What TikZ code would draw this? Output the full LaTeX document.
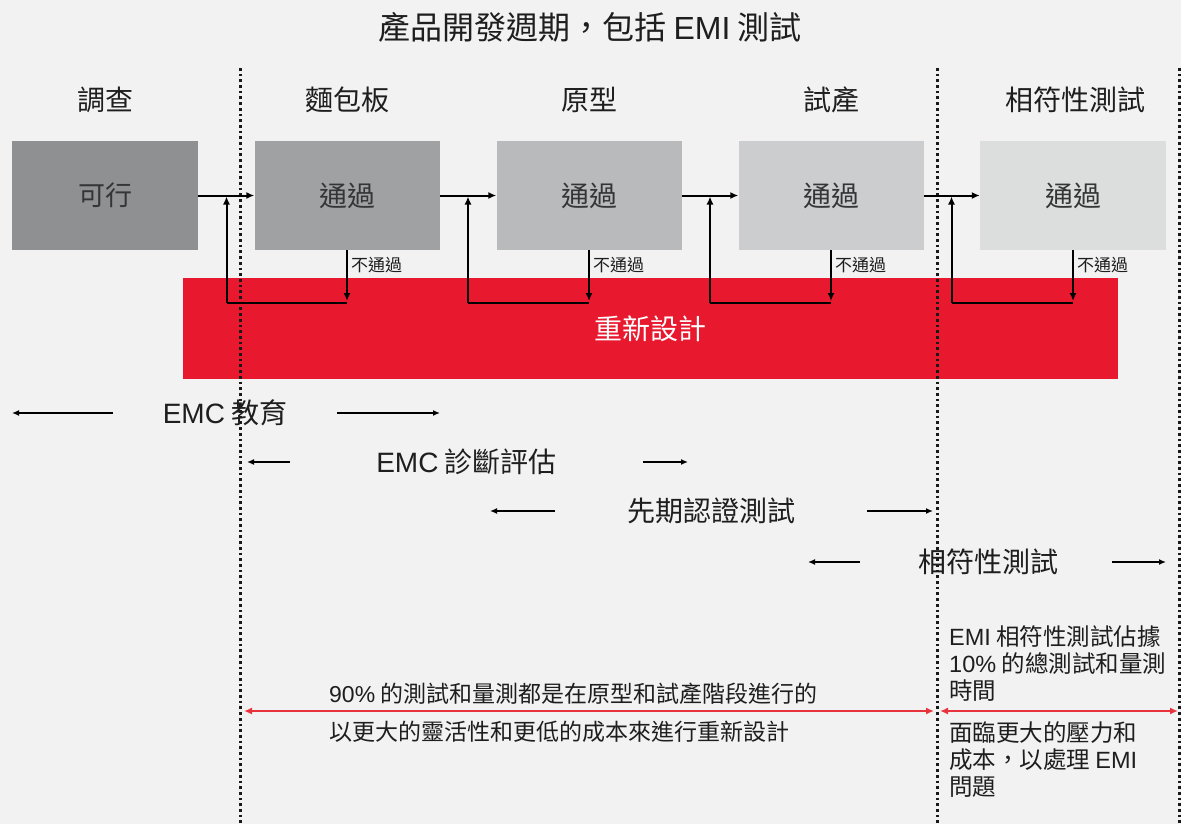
\documentclass[tikz,border=0pt]{standalone}
\usepackage{fontspec}
\setmainfont{Noto Sans CJK TC}
\newfontfamily\latfont{Liberation Sans}
\newcommand\lt[1]{{\latfont #1}}
\usetikzlibrary{arrows.meta,calc}
\definecolor{bg}{HTML}{F2F2F2}
\definecolor{txt}{HTML}{1E1E1E}
\definecolor{gA}{HTML}{8F9092}
\definecolor{gB}{HTML}{A0A1A3}
\definecolor{gC}{HTML}{B9BABC}
\definecolor{gD}{HTML}{CCCDCE}
\definecolor{gE}{HTML}{DCDDDD}
\definecolor{redbox}{HTML}{E8192F}
\definecolor{redln}{HTML}{E8323C}
\tikzset{
  stagebox/.style={minimum width=185pt, minimum height=109pt, inner sep=0pt,
    text=txt!90, font=\fontsize{28}{30}\selectfont},
  phase/.style={text=txt, font=\fontsize{28}{30}\selectfont, inner sep=0pt},
  fail/.style={text=txt, font=\fontsize{17}{19}\selectfont, inner sep=0pt, anchor=west},
  flow/.style={line width=2pt, draw=black, -{Latex[length=8pt,width=7pt]}},
  plain/.style={line width=2pt, draw=black},
  sarr/.style={line width=1.8pt, draw=black, -{Latex[length=7pt,width=6pt]}},
  rarr/.style={line width=2pt, draw=redln, {Latex[length=8pt,width=7pt]}-{Latex[length=8pt,width=7pt]}},
  dots/.style={line width=3pt, draw=black!90, dash pattern=on 2.7pt off 3pt},
  note/.style={text=txt, inner sep=0pt, align=left, anchor=west},
}
\begin{document}
\begin{tikzpicture}[x=1pt,y=-1pt]
\fill[bg] (0,0) rectangle (1181,824);
\useasboundingbox (0,0) rectangle (1181,824);

% title
\node[phase, font=\fontsize{32}{34}\selectfont] (title) at (590,27) {產品開發週期，包括 \lt{EMI} 測試};

% red redesign box
\node[fill=redbox, minimum width=935pt, minimum height=101pt, inner sep=0pt,
      text=white, font=\fontsize{28}{30}\selectfont] (red) at (650.5,328.5) {重新設計};

% dotted phase separators
\coordinate (d1t) at (240,68);  \coordinate (d1b) at (240,824);
\coordinate (d2t) at (937,68);  \coordinate (d2b) at (937,824);
\coordinate (d3t) at (1179,68); \coordinate (d3b) at (1179,824);
\draw[dots] (d1t) -- (d1b);
\draw[dots] (d2t) -- (d2b);
\draw[dots] (d3t) -- (d3b);

% stage boxes
\node[stagebox, fill=gA, minimum width=186pt, font=\fontsize{27}{29}\selectfont] (b1) at (105,195.5) {可行};
\node[stagebox, fill=gB] (b2) at (347,195.5) {通過};
\node[stagebox, fill=gC] (b3) at (589,195.5) {通過};
\node[stagebox, fill=gD] (b4) at (831,195.5) {通過};
\node[stagebox, fill=gE, minimum width=186pt] (b5) at (1073,195.5) {通過};

% phase labels
\node[phase] (p1) at (105,100) {調查};
\node[phase] (p2) at (347,100) {麵包板};
\node[phase] (p3) at (589,100) {原型};
\node[phase] (p4) at (831,100) {試產};
\node[phase] (p5) at (1075,100) {相符性測試};

% forward flow
\draw[flow] (b1.east) -- (b2.west);
\draw[flow] (b2.east) -- (b3.west);
\draw[flow] (b3.east) -- (b4.west);
\draw[flow] (b4.east) -- (b5.west);

% feedback loops
\coordinate (f1) at (226.5,303);
\coordinate (f2) at (468,303);
\coordinate (f3) at (710,303);
\coordinate (f4) at (951.5,303);
\foreach \b/\f/\p in {b2/f1/b1, b3/f2/b2, b4/f3/b3, b5/f4/b4}{
  \draw[plain] (\b.south |- \f) -- (\f);
  \draw[flow] (\f) -- ([yshift=-1pt]\f |- \p.east);
  \draw[flow] (\b.south) -- ([yshift=2pt]\b.south |- \f);
  \node[fail] at ($(\b.south)+(4,15)$) {不通過};
}

% lower activity rows
\node[phase] (t1) at (225,413) {\lt{EMC} 教育};
\coordinate (a1a) at (113,413); \coordinate (a1b) at (12,413);
\coordinate (a1c) at (337,413); \coordinate (a1d) at (440,413);
\draw[sarr] (a1a) -- (a1b);
\draw[sarr] (a1c) -- (a1d);

\node[phase] (t2) at (466.5,462) {\lt{EMC} 診斷評估};
\coordinate (a2a) at (290,462); \coordinate (a2b) at (247,462);
\coordinate (a2c) at (643,462); \coordinate (a2d) at (688,462);
\draw[sarr] (a2a) -- (a2b);
\draw[sarr] (a2c) -- (a2d);

\node[phase] (t3) at (711.5,511) {先期認證測試};
\coordinate (a3a) at (555,511); \coordinate (a3b) at (490,511);
\coordinate (a3c) at (867,511); \coordinate (a3d) at (933,511);
\draw[sarr] (a3a) -- (a3b);
\draw[sarr] (a3c) -- (a3d);

\node[phase] (t4) at (988,562) {相符性測試};
\coordinate (a4a) at (860,562); \coordinate (a4b) at (808,562);
\coordinate (a4c) at (1112,562); \coordinate (a4d) at (1166,562);
\draw[sarr] (a4a) -- (a4b);
\draw[sarr] (a4c) -- (a4d);

% bottom span arrows
\coordinate (r1a) at (244,711); \coordinate (r1b) at (934,711);
\coordinate (r2a) at (940,711); \coordinate (r2b) at (1178,711);
\draw[rarr] (r1a) -- (r1b);
\draw[rarr] (r2a) -- (r2b);

% bottom notes
\node[note, font=\fontsize{23}{38}\selectfont] (n1) at (329,713)
  {\lt{90\%} 的測試和量測都是在原型和試產階段進行的\\以更大的靈活性和更低的成本來進行重新設計};
\node[note, font=\fontsize{23.5}{27}\selectfont] (n2) at (949,664)
  {\lt{EMI} 相符性測試佔據\\\lt{10\%} 的總測試和量測\\時間};
\node[note, font=\fontsize{23.5}{27}\selectfont] (n3) at (949,760)
  {面臨更大的壓力和\\成本，以處理 \lt{EMI}\\問題};
\end{tikzpicture}
\end{document}
